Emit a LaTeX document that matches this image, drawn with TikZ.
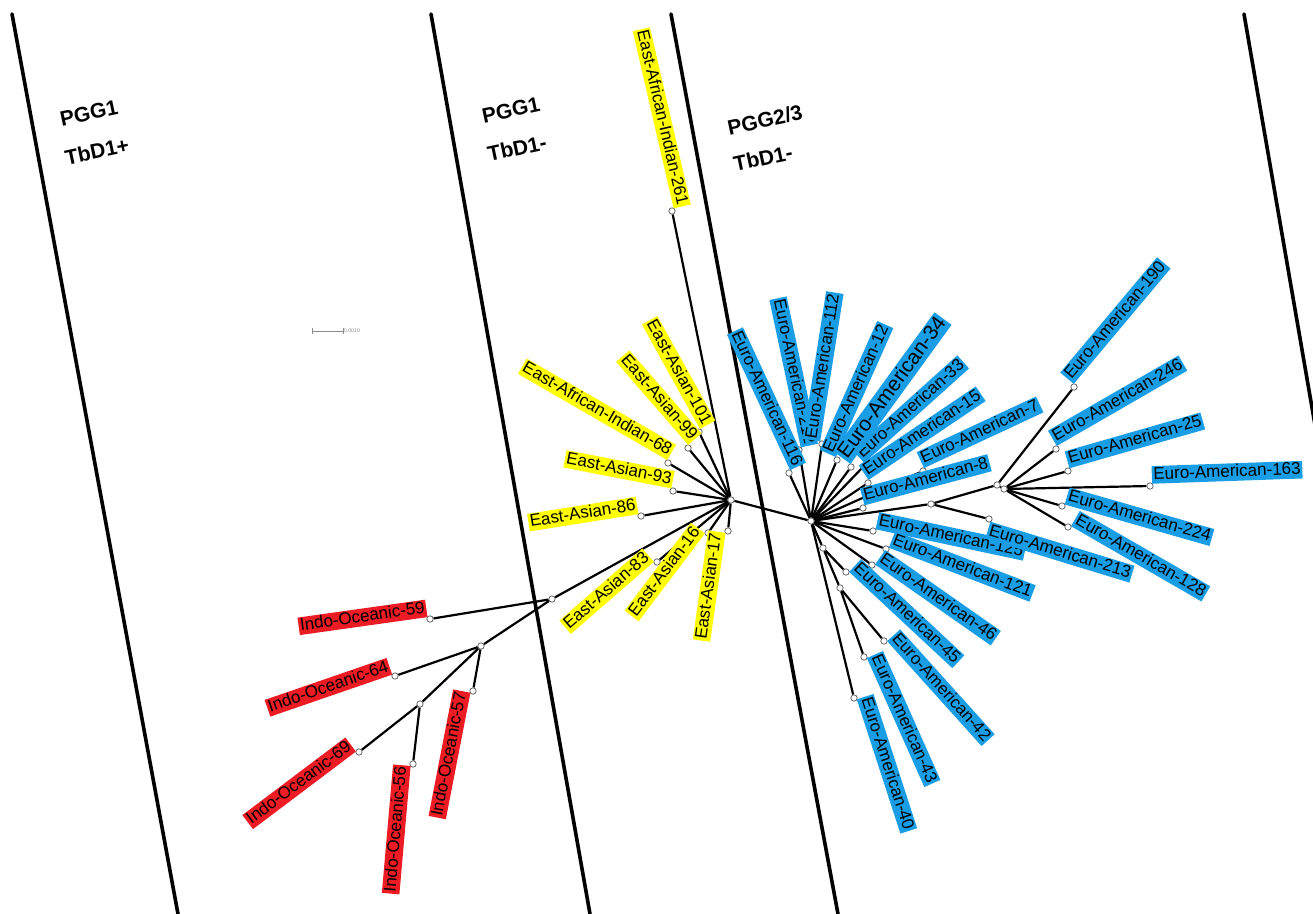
\documentclass[tikz,border=0pt]{standalone}
\usepackage{fontspec}
\setmainfont{Liberation Sans}
\usetikzlibrary{backgrounds}
\definecolor{ored}{RGB}{237,28,36}
\definecolor{oyel}{RGB}{255,255,0}
\definecolor{oblu}{RGB}{25,158,230}
\tikzset{
  tn/.style={circle, draw=black!65, fill=white, line width=0.35pt, inner sep=0pt, minimum size=3.2pt},
  br/.style={line width=1.1pt, black},
  divline/.style={line width=1.8pt, black, line cap=round},
  lab/.style={font=\fontsize{8.5}{10}\selectfont, inner xsep=0.8pt, inner ysep=0.4pt,
              text height=6.3pt, text depth=1.7pt, outer sep=1.1pt},
  biglab/.style={font=\fontsize{10.4}{12}\selectfont, inner xsep=0.8pt, inner ysep=0.4pt,
              text height=7.7pt, text depth=2.1pt, outer sep=1.1pt},
  rl/.style={fill=ored},
  yl/.style={fill=oyel},
  bl/.style={fill=oblu},
  R/.style={anchor=south west},
  L/.style={anchor=south east},
  hdr/.style={font=\fontsize{10.5}{12}\selectfont\bfseries, inner sep=0pt}
}
\begin{document}
\begin{tikzpicture}[x=0.5pt,y=-0.5pt]
\useasboundingbox (0,0) rectangle (1313,914);

% divider lines
\coordinate (d1a) at (12,14);   \coordinate (d1b) at (178,914);
\coordinate (d2a) at (431,14);  \coordinate (d2b) at (590,914);
\coordinate (d3a) at (671,14);  \coordinate (d3b) at (838,914);
\coordinate (d4a) at (1244,14); \coordinate (d4b) at (1315,425);

% headers
\node[hdr, rotate=12] (h1a) at (89,113) {PGG1};
\node[hdr, rotate=12] (h1b) at (97,151) {TbD1+};
\node[hdr, rotate=12] (h2a) at (511,110) {PGG1};
\node[hdr, rotate=12] (h2b) at (517,148) {TbD1-};
\node[hdr, rotate=12] (h3a) at (765,120) {PGG2/3};
\node[hdr, rotate=12] (h3b) at (763,158) {TbD1-};

% scale bar
\coordinate (sb1) at (312,331);
\coordinate (sb2) at (343,331);
\draw[black!45, line width=0.3pt] (sb1) -- (sb2);
\draw[black!45, line width=0.3pt] ([yshift=-1.5]sb1) -- ([yshift=1.5]sb1);
\draw[black!45, line width=0.3pt] ([yshift=-1.5]sb2) -- ([yshift=1.5]sb2);
\node[black!45, font=\fontsize{2.6}{3}\selectfont, anchor=west, inner sep=0.3pt] (sbt) at (sb2) {0.0010};

% ---------- tree nodes ----------
% red clade
\node[tn] (A) at (552,599) {};
\node[tn] (B) at (481,646) {};
\node[tn] (C) at (420,704) {};
\node[tn] (r59) at (430,619) {};
\node[tn] (r64) at (395,676) {};
\node[tn] (r69) at (359,752) {};
\node[tn] (r56) at (413,764) {};
\node[tn] (r57) at (473,691) {};
% yellow clade
\node[tn] (Y) at (731,500) {};
\node[tn] (y261) at (672,211) {};
\node[tn] (y101) at (699,432) {};
\node[tn] (y99) at (688,448) {};
\node[tn] (y68) at (668,463) {};
\node[tn] (y93) at (673,491) {};
\node[tn] (y86) at (641,516) {};
\node[tn] (y83) at (657,562) {};
\node[tn] (y16) at (708,533) {};
\node[tn] (y17) at (728,531) {};
% blue clade
\node[tn] (Z) at (811,521) {};
\node[tn] (b116) at (789,473) {};
\node[tn] (b212) at (799,450) {};
\node[tn] (b112) at (822,444) {};
\node[tn] (b12) at (837,460) {};
\node[tn] (b33) at (864,466) {};
\node[tn] (b34) at (851,467) {};
\node[tn] (b15) at (868,483) {};
\node[tn] (b7) at (923,471) {};
\node[tn] (b8) at (863,508) {};
\node[tn] (D) at (931,504) {};
\node[tn] (E) at (997,485) {};
\node[tn] (F) at (1004,489) {};
\node[tn] (b213) at (989,519) {};
\node[tn] (b190) at (1074,387) {};
\node[tn] (b246) at (1056,449) {};
\node[tn] (b25) at (1068,471) {};
\node[tn] (b163) at (1150,486) {};
\node[tn] (b224) at (1062,506) {};
\node[tn] (b128) at (1068,527) {};
\node[tn] (b125) at (873,531) {};
\node[tn] (b121) at (886,549) {};
\node[tn] (b46) at (872,565) {};
\node[tn] (G) at (823,548) {};
\node[tn] (b45) at (846,572) {};
\node[tn] (H) at (840,588) {};
\node[tn] (b42) at (884,641) {};
\node[tn] (b43) at (864,657) {};
\node[tn] (b40) at (854,698) {};

% ---------- labels ----------
\node[lab, rl, L, rotate=8]  (l59) at (r59.center) {Indo-Oceanic-59};
\node[lab, rl, L, rotate=19] (l64) at (r64.center) {Indo-Oceanic-64};
\node[lab, rl, L, rotate=37] (l69) at (r69.center) {Indo-Oceanic-69};
\node[lab, rl, L, rotate=85] (l56) at (r56.center) {Indo-Oceanic-56};
\node[lab, rl, L, rotate=79] (l57) at (r57.center) {Indo-Oceanic-57};

\node[lab, yl, L, rotate=-77] (l261) at (y261.center) {East-African-Indian-261};
\node[lab, yl, L, rotate=-61] (l101) at (y101.center) {East-Asian-101};
\node[lab, yl, L, rotate=-49] (l99) at (y99.center) {East-Asian-99};
\node[lab, yl, L, rotate=-30] (l68) at (y68.center) {East-African-Indian-68};
\node[lab, yl, L, rotate=-11] (l93) at (y93.center) {East-Asian-93};
\node[lab, yl, L, rotate=9]   (l86) at (y86.center) {East-Asian-86};
\node[lab, yl, L, rotate=41]  (l83) at (y83.center) {East-Asian-83};
\node[lab, yl, L, rotate=53]  (l16) at (y16.center) {East-Asian-16};
\node[lab, yl, L, rotate=82]  (l17) at (y17.center) {East-Asian-17};

\node[lab, bl, L, rotate=-65] (l116) at (b116.center) {Euro-American-116};
\node[lab, bl, L, rotate=-78] (l212) at (b212.center) {Euro-American-212};
\node[lab, bl, R, rotate=81]  (l112) at (b112.center) {Euro-American-112};
\node[lab, bl, R, rotate=66]  (l12) at (b12.center) {Euro-American-12};
\node[lab, bl, R, rotate=42]  (l33) at (b33.center) {Euro-American-33};
\node[biglab, bl, R, rotate=54] (l34) at (b34.center) {Euro-American-34};
\node[lab, bl, R, rotate=34]  (l15) at (b15.center) {Euro-American-15};
\node[lab, bl, R, rotate=25]  (l7) at (b7.center) {Euro-American-7};
\node[lab, bl, R, rotate=15]  (l8) at (b8.center) {Euro-American-8};
\node[lab, bl, R, rotate=-12] (l125) at (b125.center) {Euro-American-125};
\node[lab, bl, R, rotate=-30] (l128) at (b128.center) {Euro-American-128};
\node[lab, bl, anchor=north west, rotate=-17] (l213) at (b213.center) {Euro-American-213};
\node[lab, bl, R, rotate=-21] (l121) at (b121.center) {Euro-American-121};
\node[lab, bl, R, rotate=-35] (l46) at (b46.center) {Euro-American-46};
\node[lab, bl, R, rotate=-43] (l45) at (b45.center) {Euro-American-45};
\node[lab, bl, R, rotate=-48] (l42) at (b42.center) {Euro-American-42};
\node[lab, bl, R, rotate=-66] (l43) at (b43.center) {Euro-American-43};
\node[lab, bl, R, rotate=-72] (l40) at (b40.center) {Euro-American-40};
\node[lab, bl, R, rotate=50]  (l190) at (b190.center) {Euro-American-190};
\node[lab, bl, R, rotate=30]  (l246) at (b246.center) {Euro-American-246};
\node[lab, bl, R, rotate=16]  (l25) at (b25.center) {Euro-American-25};
\node[lab, bl, R, rotate=2]   (l163) at (b163.center) {Euro-American-163};
\node[lab, bl, R, rotate=-16] (l224) at (b224.center) {Euro-American-224};

% ---------- edges and dividers (behind) ----------
\begin{scope}[on background layer]
\draw[divline] (d1a) -- (d1b);
\draw[divline] (d2a) -- (d2b);
\draw[divline] (d3a) -- (d3b);
\draw[divline] (d4a) -- (d4b);

\draw[br] (A) -- (r59);
\draw[br] (A) -- (B);
\draw[br] (B) -- (r64);
\draw[br] (B) -- (C);
\draw[br] (B) -- (r57);
\draw[br] (C) -- (r69);
\draw[br] (C) -- (r56);
\draw[br] (A) -- (Y);

\foreach \t in {y261,y101,y99,y68,y93,y86,y83,y16,y17}
  \draw[br] (Y) -- (\t);
\draw[br] (Y) -- (Z);

\foreach \t in {b116,b212,b112,b12,b34,b33,b15,b7,b8,D,b125,b121,b46,G,b40}
  \draw[br] (Z) -- (\t);
\draw[br] (D) -- (E);
\draw[br] (D) -- (b213);
\draw[br] (E) -- (b190);
\draw[br] (E) -- (F);
\foreach \t in {b246,b25,b163,b224,b128}
  \draw[br] (F) -- (\t);
\draw[br] (G) -- (b45);
\draw[br] (G) -- (H);
\draw[br] (H) -- (b42);
\draw[br] (H) -- (b43);
\end{scope}
\end{tikzpicture}
\end{document}
